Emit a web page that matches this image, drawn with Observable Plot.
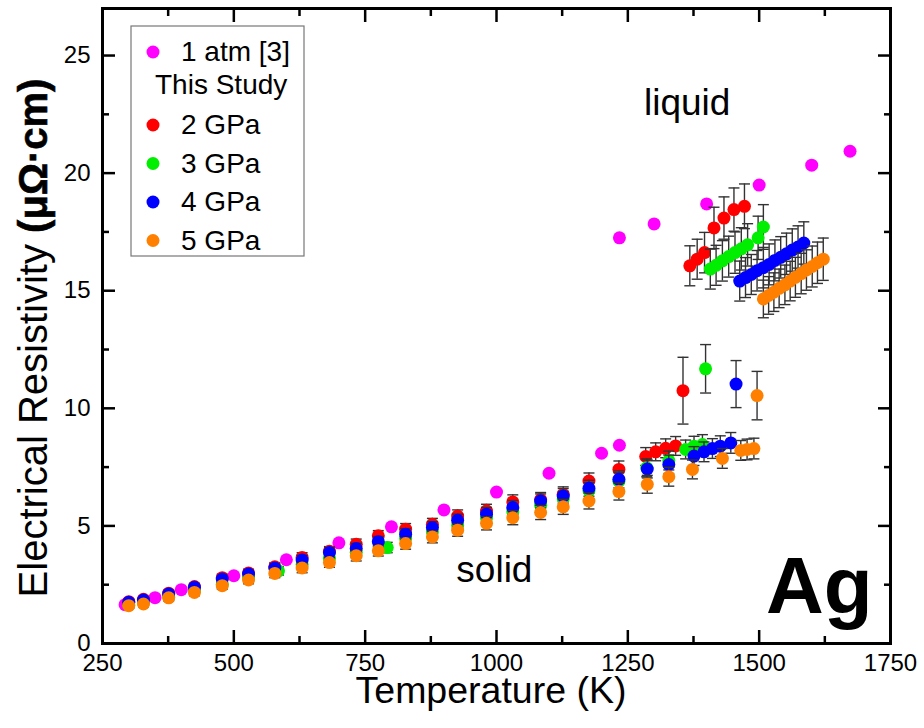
<!DOCTYPE html>
<html><head><meta charset="utf-8">
<script src="https://cdn.jsdelivr.net/npm/d3@7"></script>
<script src="https://cdn.jsdelivr.net/npm/@observablehq/plot@0.6"></script>
<style>body{margin:0;background:#fff}#chart{width:924px;height:728px}</style>
</head><body><div id="chart"></div>
<script>
// ---- data ----
const atmT = [293, 350, 400, 500, 600, 700, 800, 900, 1000, 1100, 1200, 1234, 1234, 1300, 1400, 1500, 1600, 1673];
const atmR = [1.65, 1.95, 2.29, 2.88, 3.56, 4.28, 4.96, 5.68, 6.44, 7.24, 8.09, 8.43, 17.25, 17.84, 18.69, 19.49, 20.34, 20.93];

const gpa2T = [300,328,376,425,478,528,578,630,682,733,775,827,878,926,981,1031,1084,1127,1176,1233,1284,1303,1322,1341,1355,1368,1382,1396,1414,1433,1452,1472];
const gpa2R = [1.78,1.88,2.14,2.42,2.80,3.00,3.26,3.66,3.92,4.22,4.58,4.86,5.07,5.42,5.64,6.02,6.12,6.34,6.91,7.40,7.95,8.15,8.30,8.40,10.75,16.06,16.34,16.62,17.67,18.09,18.45,18.59];
const gpa2E = [0.12,0.12,0.13,0.14,0.15,0.16,0.18,0.2,0.2,0.22,0.22,0.24,0.25,0.26,0.28,0.3,0.3,0.32,0.34,0.36,0.38,0.38,0.4,0.4,1.42,0.85,0.85,0.86,0.88,0.9,0.92,0.95];

const gpa3T = [300,328,376,425,478,528,585,630,682,733,792,827,878,926,981,1031,1084,1127,1176,1233,1286,1328,1360,1376,1392,1398,1407,1418,1430,1442,1454,1466,1478,1498,1508];
const gpa3R = [1.64,1.72,1.98,2.24,2.52,2.78,3.09,3.36,3.62,3.88,4.08,4.48,4.75,5.02,5.34,5.60,5.88,6.15,6.50,6.90,7.47,7.78,8.25,8.39,8.46,11.68,15.92,16.08,16.27,16.45,16.62,16.78,16.95,17.25,17.71];
const gpa3E = [0.12,0.12,0.13,0.14,0.15,0.16,0.18,0.2,0.2,0.22,0.22,0.24,0.25,0.26,0.28,0.3,0.3,0.32,0.34,0.36,0.38,0.4,0.4,0.42,0.42,1.03,0.85,0.85,0.86,0.87,0.88,0.9,0.9,0.92,0.95];

const gpa4T = [300,328,376,425,478,528,578,630,682,733,775,827,878,926,981,1031,1084,1127,1176,1233,1287,1328,1376,1395,1411,1426,1446,1456,1463,1474,1485,1496,1508,1519,1530,1541,1552,1563,1574,1585];
const gpa4R = [1.75,1.85,2.10,2.39,2.74,2.95,3.21,3.55,3.87,4.04,4.33,4.65,4.93,5.24,5.50,5.78,6.06,6.27,6.60,6.98,7.42,7.61,7.97,8.15,8.29,8.39,8.53,11.03,15.41,15.56,15.69,15.85,15.98,16.12,16.29,16.42,16.57,16.73,16.86,17.03];
const gpa4E = [0.12,0.12,0.13,0.14,0.15,0.16,0.18,0.2,0.2,0.22,0.22,0.24,0.25,0.26,0.28,0.3,0.3,0.32,0.34,0.36,0.38,0.4,0.4,0.42,0.42,0.44,0.44,1.0,0.85,0.85,0.85,0.86,0.86,0.87,0.87,0.88,0.88,0.9,0.9,0.9];

const gpa5T = [300,328,376,425,478,528,578,630,682,733,775,827,878,926,981,1031,1084,1127,1176,1233,1287,1328,1373,1430,1465,1477,1490,1496,1508,1518,1528,1538,1549,1559,1569,1580,1590,1601,1611,1622];
const gpa5R = [1.61,1.68,1.94,2.17,2.46,2.70,2.98,3.21,3.44,3.73,3.94,4.25,4.53,4.82,5.11,5.35,5.57,5.81,6.06,6.46,6.77,7.09,7.40,7.87,8.21,8.25,8.29,10.54,14.65,14.80,14.94,15.10,15.25,15.41,15.57,15.73,15.88,16.03,16.19,16.34];
const gpa5E = [0.12,0.12,0.13,0.14,0.15,0.16,0.18,0.2,0.2,0.22,0.22,0.24,0.25,0.26,0.28,0.3,0.3,0.32,0.34,0.36,0.38,0.4,0.4,0.42,0.42,0.44,0.44,1.03,0.8,0.8,0.82,0.82,0.84,0.84,0.85,0.86,0.86,0.87,0.88,0.9];

const seriesNames = ["2 GPa", "3 GPa", "4 GPa", "5 GPa"];
const seriesColors = ["#ff0000", "#00ee00", "#0000ff", "#ff8000"];
const atmName = "1 atm [3]";
const atmColor = "#ff00ff";

const xTicks = [250, 500, 750, 1000, 1250, 1500, 1750];
const xMinor = [375, 625, 875, 1125, 1375, 1625];
const yTicks = [0, 5, 10, 15, 20, 25];
const yMinor = [2.5, 7.5, 12.5, 17.5, 22.5];

// ---- build tables ----
const atm = atmT.map((T, i) => ({T, R: atmR[i]}));
const raw = [[gpa2T, gpa2R, gpa2E], [gpa3T, gpa3R, gpa3E], [gpa4T, gpa4R, gpa4E], [gpa5T, gpa5R, gpa5E]];
const series = raw.map(([Ts, Rs, Es], k) => Ts.map((T, i) => ({T, R: Rs[i], E: Es[i], s: seriesNames[k]})));

const FONT = "'Liberation Sans', Arial, Helvetica, sans-serif";
const capSym = {draw(ctx) { ctx.moveTo(-5.5, 0); ctx.lineTo(5.5, 0); }};
const barColor = "#333";

const seriesMarks = series.flatMap((d, k) => [
  Plot.ruleX(d, {x: "T", y1: r => r.R - r.E, y2: r => r.R + r.E, stroke: barColor, strokeWidth: 1.4}),
  Plot.dot(d, {x: "T", y: r => r.R - r.E, symbol: capSym, stroke: barColor, fill: "none", strokeWidth: 1.4}),
  Plot.dot(d, {x: "T", y: r => r.R + r.E, symbol: capSym, stroke: barColor, fill: "none", strokeWidth: 1.4}),
  Plot.dot(d, {x: "T", y: "R", r: 6.5, fill: seriesColors[k], stroke: "none"})
]);

const tickStyle = {tickFormat: () => "", label: null, strokeWidth: 2.5};

const plot = Plot.plot({
  width: 924, height: 728,
  marginLeft: 102, marginRight: 34, marginTop: 8, marginBottom: 85,
  x: {domain: [250, 1750]},
  y: {domain: [0, 27]},
  style: {fontFamily: FONT, background: "white", color: "black"},
  marks: [
    Plot.axisX(xTicks, {tickSize: 0, tickPadding: 10, fontSize: 24, label: null, tickFormat: d => String(d)}),
    Plot.axisY(yTicks, {tickSize: 0, tickPadding: 12, fontSize: 24, label: null}),
    Plot.axisX(xTicks, {anchor: "bottom", tickSize: 13, dy: -13, ...tickStyle}),
    Plot.axisX(xMinor, {anchor: "bottom", tickSize: 7, dy: -7, ...tickStyle}),
    Plot.axisX(xTicks, {anchor: "top", tickSize: 13, dy: 13, ...tickStyle}),
    Plot.axisX(xMinor, {anchor: "top", tickSize: 7, dy: 7, ...tickStyle}),
    Plot.axisY(yTicks, {anchor: "left", tickSize: 13, dx: 13, ...tickStyle}),
    Plot.axisY(yMinor, {anchor: "left", tickSize: 7, dx: 7, ...tickStyle}),
    Plot.axisY(yTicks, {anchor: "right", tickSize: 13, dx: -13, ...tickStyle}),
    Plot.axisY(yMinor, {anchor: "right", tickSize: 7, dx: -7, ...tickStyle}),
    Plot.dot(atm, {x: "T", y: "R", r: 6.5, fill: atmColor, stroke: "none"}),
    ...seriesMarks,
    Plot.text([{x: 1363, y: 22.97, t: "liquid"}], {x: "x", y: "y", text: "t", fontSize: 37}),
    Plot.text([{x: 996, y: 3.13, t: "solid"}], {x: "x", y: "y", text: "t", fontSize: 37}),
    Plot.text([{x: 1716, y: 2.4, t: "Ag"}], {x: "x", y: "y", text: "t", fontSize: 80, fontWeight: "bold", textAnchor: "end"}),
    Plot.frame({strokeWidth: 3})
  ]
});

const svg = d3.select(plot);
// axis titles
svg.append("text").attr("x", 491).attr("y", 703).attr("text-anchor", "middle")
  .attr("font-family", FONT).attr("font-size", 37.5).attr("fill", "black").text("Temperature (K)");
const yt = svg.append("text").attr("transform", "translate(47,338) rotate(-90)").attr("text-anchor", "middle")
  .attr("font-family", FONT).attr("font-size", 40).attr("fill", "black");
yt.append("tspan").text("Electrical Resistivity ");
yt.append("tspan").attr("font-weight", 600).attr("stroke", "black").attr("stroke-width", 0.6).text("(μΩ·cm)");

// legend
const lg = svg.append("g").attr("font-family", FONT).attr("font-size", 28).attr("fill", "black").attr("text-anchor", "start");
lg.append("rect").attr("x", 131).attr("y", 26).attr("width", 173).attr("height", 230)
  .attr("fill", "white").attr("stroke", "#777").attr("stroke-width", 1.2);
const legendRows = [
  {name: atmName, color: atmColor, base: 61},
  {name: "This Study", color: null, base: 94},
  ...seriesNames.map((n, i) => ({name: n, color: seriesColors[i], base: 134 + i * 38.5}))
];
legendRows.forEach(r => {
  if (r.color) {
    lg.append("circle").attr("cx", 153).attr("cy", r.base - 9).attr("r", 6.5).attr("fill", r.color);
    lg.append("text").attr("x", 181).attr("y", r.base).attr("text-anchor", "start").text(r.name);
  } else {
    lg.append("text").attr("x", 155).attr("y", r.base).attr("text-anchor", "start").text(r.name);
  }
});

document.getElementById("chart").appendChild(plot);
</script>
</body></html>
